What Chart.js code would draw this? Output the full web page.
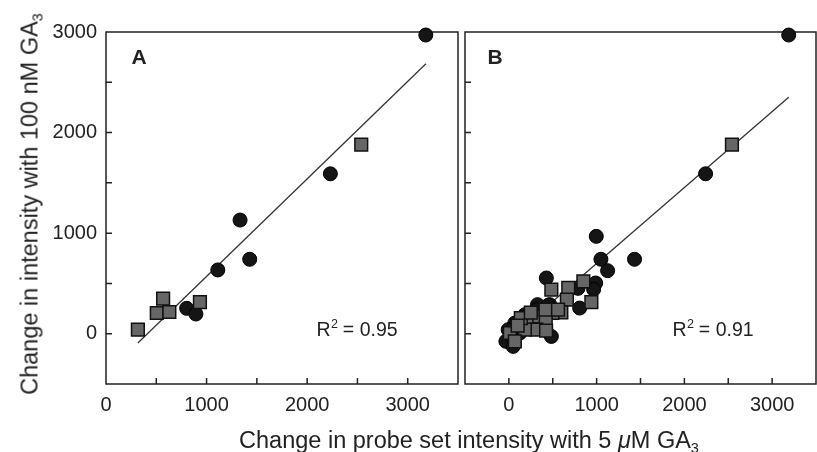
<!DOCTYPE html>
<html>
<head>
<meta charset="utf-8">
<script src="https://cdn.jsdelivr.net/npm/chart.js@4/dist/chart.umd.min.js"></script>
<style>
  body { margin: 0; background: #fff; width: 817px; height: 452px; position: relative; overflow: hidden;
         font-family: "Liberation Sans", Arial, sans-serif; color: #222; }
  canvas { position: absolute; top: 0; }
  #chartA { left: 0; }
  #chartB { left: 460px; }
  .ytitle { position: absolute; left: 30px; top: 204px; transform: translate(-50%, -50%) rotate(-90deg);
            white-space: nowrap; font-size: 23.5px; }
  .xtitle { position: absolute; left: 469px; top: 440px; transform: translate(-50%, -50%);
            white-space: nowrap; font-size: 23.5px; }
  sub { font-size: 14.5px; vertical-align: -5px; line-height: 0; }
</style>
</head>
<body>
<canvas id="chartA" width="460" height="452"></canvas>
<canvas id="chartB" width="357" height="452"></canvas>
<div class="ytitle">Change in intensity with 100 nM GA<sub>3</sub></div>
<div class="xtitle">Change in probe set intensity with 5 <i>μ</i>M GA<sub>3</sub></div>
<script>
// panel A
const aCircleX = [3180, 2231, 1333, 1429, 1112, 802, 894];
const aCircleY = [2970, 1590, 1130, 740, 634, 252, 196];
const aSquareX = [2538, 568, 505, 630, 934, 317];
const aSquareY = [1880, 348, 206, 216, 315, 40];
const aLineX = [317, 3181];
const aLineY = [-93, 2684];
const aR2 = "0.95";

// panel B
const bCircleX = [3189, 2242, 996, 1049, 1432, 1125, 427, 989, 966, 788, 807, 466, 326, 451, 484,
                  -34, 49, 106, 68, -8, 30, 125, 182, 314, 200, 260, 150, 20];
const bCircleY = [2970, 1590, 968, 740, 740, 627, 554, 504, 441, 451, 255, 289, 289, 285, -27,
                  -76, -126, 56, 106, 40, -27, 7, 189, 239, 100, 150, 160, 0];
const bSquareX = [2542, 484, 677, 849, 661, 940, 598, 496, 333, 201, 420, 314, 182, 424, 11,
                  136, 417, 68, 560, 250, 100];
const bSquareY = [1880, 438, 455, 521, 338, 315, 212, 206, 172, 139, 123, 40, 40, 30, 7,
                  156, 239, -76, 240, 210, 80];
const bLineX = [-38, 3189];
const bLineY = [-84, 2352];
const bR2 = "0.91";

const yMin = -500, yMax = 3000;
const yLabels = [0, 1000, 2000, 3000];
const xLabels = [0, 1000, 2000, 3000];

const FONT = '"Liberation Sans", Arial, sans-serif';
const pts = (xs, ys) => xs.map((x, i) => ({x: x, y: ys[i]}));

const framePlugin = {
  id: 'frame',
  beforeDatasetsDraw(chart, args, opts) {
    const {ctx, chartArea: ca} = chart;
    ctx.save();
    ctx.strokeStyle = '#222';
    ctx.lineWidth = 1.5;
    ctx.strokeRect(ca.left, ca.top, ca.right - ca.left, ca.bottom - ca.top);
    ctx.beginPath();
    const xs = chart.scales.x, ys = chart.scales.y;
    xs.ticks.forEach(t => {
      if (t.value <= xs.min || t.value >= xs.max) return;
      const px = xs.getPixelForValue(t.value);
      ctx.moveTo(px, ca.bottom);
      ctx.lineTo(px, ca.bottom - 6);
    });
    ys.ticks.forEach(t => {
      if (t.value <= ys.min || t.value >= ys.max) return;
      const py = ys.getPixelForValue(t.value);
      ctx.moveTo(ca.left, py);
      ctx.lineTo(ca.left + 6, py);
    });
    ctx.stroke();
    // panel letter
    ctx.fillStyle = '#222';
    ctx.font = 'bold 21px ' + FONT;
    ctx.textAlign = 'center';
    ctx.textBaseline = 'middle';
    ctx.fillText(opts.letter, ca.left + opts.letterDx, ca.top + 26);
    // R squared
    const cx = ca.left + opts.r2Dx, cy = 331;
    const big = '19.5px ' + FONT;
    const small = '12.5px ' + FONT;
    const rest = ' = ' + opts.r2;
    ctx.font = big;
    const wR = ctx.measureText('R').width, wRest = ctx.measureText(rest).width;
    ctx.font = small;
    const w2 = ctx.measureText('2').width;
    const x0 = cx - (wR + w2 + wRest) / 2;
    ctx.textAlign = 'left';
    ctx.font = big;
    ctx.fillText('R', x0, cy);
    ctx.font = small;
    ctx.fillText('2', x0 + wR + 0.5, cy - 6);
    ctx.font = big;
    ctx.fillText(rest, x0 + wR + w2, cy);
    ctx.restore();
  }
};

function makeChart(id, o) {
  return new Chart(document.getElementById(id), {
    type: 'scatter',
    data: {
      datasets: [
        { type: 'line', data: pts(o.lineX, o.lineY), borderColor: '#333', borderWidth: 1.3,
          pointRadius: 0, fill: false, order: 2, clip: false },
        { data: pts(o.circleX, o.circleY), pointStyle: 'circle', pointRadius: 7,
          backgroundColor: '#151515', borderColor: '#000', borderWidth: 1, order: 1, clip: false },
        { data: pts(o.squareX, o.squareY), pointStyle: 'rect', pointRadius: 9,
          backgroundColor: '#666', borderColor: '#111', borderWidth: 1.5, order: 0, clip: false }
      ]
    },
    options: {
      responsive: false,
      animation: false,
      layout: { autoPadding: false, padding: { top: 32, right: o.padRight, left: 0, bottom: 0 } },
      plugins: {
        legend: { display: false },
        tooltip: { enabled: false },
        frame: { letter: o.letter, letterDx: o.letterDx, r2: o.r2, r2Dx: o.r2Dx }
      },
      scales: {
        x: {
          type: 'linear', min: o.xMin, max: o.xMax,
          grid: { display: false, drawTicks: false }, border: { display: false },
          ticks: { stepSize: 500, autoSkip: false, maxRotation: 0, padding: 9, color: '#222',
                   font: { size: 20, family: FONT },
                   callback: v => xLabels.includes(v) ? String(v) : '' },
          afterFit: s => { s.height = 68; s.paddingLeft = 0; s.paddingRight = 0; }
        },
        y: {
          type: 'linear', min: yMin, max: yMax,
          grid: { display: false, drawTicks: false }, border: { display: false },
          ticks: { display: o.showY, stepSize: 500, autoSkip: false, padding: 9, color: '#222',
                   font: { size: 20, family: FONT },
                   callback: v => yLabels.includes(v) ? String(v) : '' },
          afterFit: s => { s.width = o.yWidth; s.paddingTop = 0; s.paddingBottom = 0; }
        }
      }
    },
    plugins: [framePlugin]
  });
}

makeChart('chartA', {
  circleX: aCircleX, circleY: aCircleY, squareX: aSquareX, squareY: aSquareY,
  lineX: aLineX, lineY: aLineY, r2: aR2, letter: 'A',
  xMin: 0, xMax: 3500, showY: true, yWidth: 106, padRight: 2, letterDx: 33, r2Dx: 251
});
makeChart('chartB', {
  circleX: bCircleX, circleY: bCircleY, squareX: bSquareX, squareY: bSquareY,
  lineX: bLineX, lineY: bLineY, r2: bR2, letter: 'B',
  xMin: -500, xMax: 3500, showY: false, yWidth: 5, padRight: 1, letterDx: 30, r2Dx: 248
});
</script>
</body>
</html>
